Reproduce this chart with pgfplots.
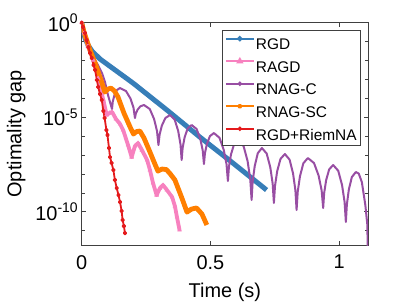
\documentclass[border=0pt]{standalone}
\usepackage{fontspec}
\setmainfont{Liberation Sans}
\usepackage{pgfplots}
\usepackage{pgfplotstable}
\pgfplotsset{compat=1.18}
\definecolor{cblue}{RGB}{55,126,184}
\definecolor{cpink}{RGB}{247,129,191}
\definecolor{cpurple}{RGB}{152,78,163}
\definecolor{corange}{RGB}{255,127,0}
\definecolor{cred}{RGB}{228,26,28}

% x = time (s), ly = log10(optimality gap)
\pgfplotstableread{
x ly
0 0
0.005 -0.386
0.0128 -0.81
0.0245 -1.18
0.040 -1.50
0.071 -1.92
0.199 -3.19
0.331 -4.62
0.459 -6.05
0.587 -7.42
0.718 -8.85
}\rgd

\pgfplotstableread{
x ly
0 0
0.009 -0.55
0.024 -1.25
0.045 -1.98
0.064 -2.94
0.084 -4.09
0.097 -4.88
0.108 -4.78
0.118 -4.72
0.133 -5.09
0.149 -5.36
0.161 -5.68
0.180 -6.47
0.194 -7.11
0.207 -6.52
0.219 -6.37
0.234 -6.74
0.254 -7.26
0.265 -7.79
0.277 -8.48
0.291 -9.12
0.304 -8.75
0.316 -8.59
0.331 -8.85
0.351 -9.22
0.362 -9.70
0.370 -10.28
0.380 -10.97
}\ragd

\pgfplotstableread{
x ly
0 0
0.0089 -0.492
0.0245 -1.180
0.0439 -1.815
0.0633 -2.238
0.0788 -2.661
0.0905 -3.138
0.1021 -3.825
0.1176 -4.566
0.1207 -4.177
0.1269 -3.844
0.1363 -3.566
0.1487 -3.455
0.1720 -3.614
0.1894 -4.010
0.2011 -4.487
0.2069 -5.042
0.2104 -4.801
0.2174 -4.595
0.2279 -4.423
0.2419 -4.354
0.2644 -4.566
0.2812 -5.095
0.2925 -5.730
0.2981 -6.471
0.3026 -5.916
0.3115 -5.439
0.3249 -5.043
0.3428 -4.884
0.3610 -5.122
0.3746 -5.717
0.3837 -6.432
0.3882 -7.265
0.3921 -6.617
0.3998 -6.061
0.4115 -5.598
0.4270 -5.413
0.4461 -5.619
0.4605 -6.135
0.4700 -6.754
0.4748 -7.476
0.4787 -6.902
0.4864 -6.410
0.4981 -6.000
0.5136 -5.836
0.5353 -6.090
0.5516 -6.725
0.5625 -7.487
0.5679 -8.376
0.5719 -7.617
0.5799 -6.966
0.5919 -6.423
0.6079 -6.206
0.6287 -6.524
0.6443 -7.317
0.6547 -8.270
0.6599 -9.381
0.6639 -8.418
0.6719 -7.593
0.6839 -6.905
0.6999 -6.630
0.7185 -6.921
0.7325 -7.649
0.7418 -8.522
0.7465 -9.540
0.7508 -8.632
0.7593 -7.855
0.7721 -7.206
0.7892 -6.947
0.8074 -7.243
0.8210 -7.984
0.8301 -8.873
0.8346 -9.910
0.8390 -8.947
0.8478 -8.122
0.8609 -7.434
0.8785 -7.159
0.9023 -7.424
0.9201 -8.085
0.9320 -8.878
0.9379 -9.804
0.9418 -9.008
0.9495 -8.325
0.9612 -7.757
0.9767 -7.529
0.9964 -7.831
1.0112 -8.585
1.0211 -9.489
1.0260 -10.545
1.0299 -9.619
1.0376 -8.825
1.0493 -8.164
1.0648 -7.899
1.0760 -7.98
1.0881 -8.43
1.1017 -9.65
1.1095 -10.70
1.1120 -13
}\rnagc

\pgfplotstableread{
x ly
0 0
0.009 -0.49
0.032 -1.44
0.052 -2.13
0.075 -3.03
0.090 -3.67
0.102 -3.51
0.114 -3.46
0.127 -3.61
0.141 -3.93
0.164 -4.78
0.188 -5.52
0.201 -5.89
0.213 -5.76
0.226 -5.73
0.242 -6.10
0.265 -6.84
0.281 -7.37
0.296 -7.85
0.312 -7.74
0.329 -7.77
0.343 -7.98
0.362 -8.32
0.389 -9.27
0.409 -10.02
0.426 -9.86
0.446 -9.80
0.467 -10.12
0.486 -10.70
}\rnagsc

\pgfplotstableread{
x ly
0 0
0.005 -0.23
0.013 -0.55
0.019 -0.92
0.026 -1.29
0.032 -1.60
0.039 -1.87
0.046 -2.24
0.052 -2.50
0.059 -3.03
0.064 -3.40
0.071 -3.77
0.078 -4.09
0.084 -4.67
0.089 -5.04
0.096 -5.68
0.100 -5.94
0.106 -6.63
0.110 -7.11
0.116 -7.42
0.123 -7.79
0.129 -8.32
0.136 -8.75
0.143 -9.12
0.149 -9.49
0.155 -9.96
0.159 -10.44
0.164 -10.76
0.168 -11.13
}\riemna

\begin{document}
\begin{tikzpicture}
\path[use as bounding box] (-81.7bp,-60bp) rectangle (325.3bp,245bp);
\begin{axis}[
  at={(0,0)}, anchor=south west,
  scale only axis, width=286.3bp, height=222.3bp,
  xmin=0, xmax=1.112, ymode=log, ymin=1.74e-12, ymax=1,
  xtick={0,0.5,1}, xticklabels={0,0.5,1},
  ytick={1e-10,1e-5,1},
  yticklabels={10\textsuperscript{-10},10\textsuperscript{-5},10\textsuperscript{0}},
  minor ytick={1e-11,1e-9,1e-8,1e-7,1e-6,1e-4,1e-3,1e-2,1e-1},
  tick align=inside,
  major tick length=4bp, minor tick length=3bp,
  axis line style={black!75, line width=0.6bp},
  tick style={black!75, line width=0.6bp},
  tick label style={font=\fontsize{20}{24}\selectfont},
  xticklabel style={yshift=-6.6bp},
  label style={font=\fontsize{20}{24}\selectfont},
  xlabel={Time (s)}, ylabel={Optimality gap},
  xlabel style={at={(axis description cs:0.5,-0.171)}, anchor=north, inner sep=0pt},
  ylabel style={at={(axis description cs:-0.262,0.5)}, anchor=north, inner sep=0pt},
  legend cell align=left,
  legend style={at={(axis description cs:0.9755,0.967)}, anchor=north east,
    draw=black!75, line width=0.6bp, fill=white,
    inner xsep=3bp, inner ysep=1.3bp,
    font=\fontsize{15.5}{18}\selectfont,
    nodes={inner xsep=1bp, inner ysep=4.3bp, text height=11.5bp, text depth=0bp}},
  legend image code/.code={
    \path (0bp,0bp) (28bp,11.5bp);
    \draw[mark repeat=2,mark phase=2,#1] plot coordinates {(0bp,5.5bp) (14bp,5.5bp) (28bp,5.5bp)};
  },
]
\addplot[cblue, line width=5bp, line join=round, forget plot] table[x=x, y expr=10^(\thisrow{ly})] {\rgd};
\addplot[cpink, line width=3.8bp, line join=round, mark=triangle*, mark size=2.3bp, mark options={solid, line width=0.5bp}, forget plot] table[x=x, y expr=10^(\thisrow{ly})] {\ragd};
\addplot[cpurple, line width=2bp, line join=round, forget plot] table[x=x, y expr=10^(\thisrow{ly})] {\rnagc};
\addplot[corange, line width=4.8bp, line join=round, forget plot] table[x=x, y expr=10^(\thisrow{ly})] {\rnagsc};
\addplot[cred, line width=1.8bp, line join=round, mark=*, mark size=1.3bp, forget plot] table[x=x, y expr=10^(\thisrow{ly})] {\riemna};

\addlegendimage{cblue, line width=2bp, mark=*, mark size=1.6bp, mark options={solid}}
\addlegendentry{RGD}
\addlegendimage{cpink, line width=2bp, mark=triangle*, mark size=2.2bp, mark options={solid}}
\addlegendentry{RAGD}
\addlegendimage{cpurple, line width=2bp, mark=*, mark size=1.1bp, mark options={solid}}
\addlegendentry{RNAG-C}
\addlegendimage{corange, line width=2bp, mark=asterisk, mark size=2.2bp, mark options={solid}}
\addlegendentry{RNAG-SC}
\addlegendimage{cred, line width=2bp, mark=*, mark size=1.1bp, mark options={solid}}
\addlegendentry{RGD+RiemNA}
\end{axis}
\end{tikzpicture}
\end{document}
